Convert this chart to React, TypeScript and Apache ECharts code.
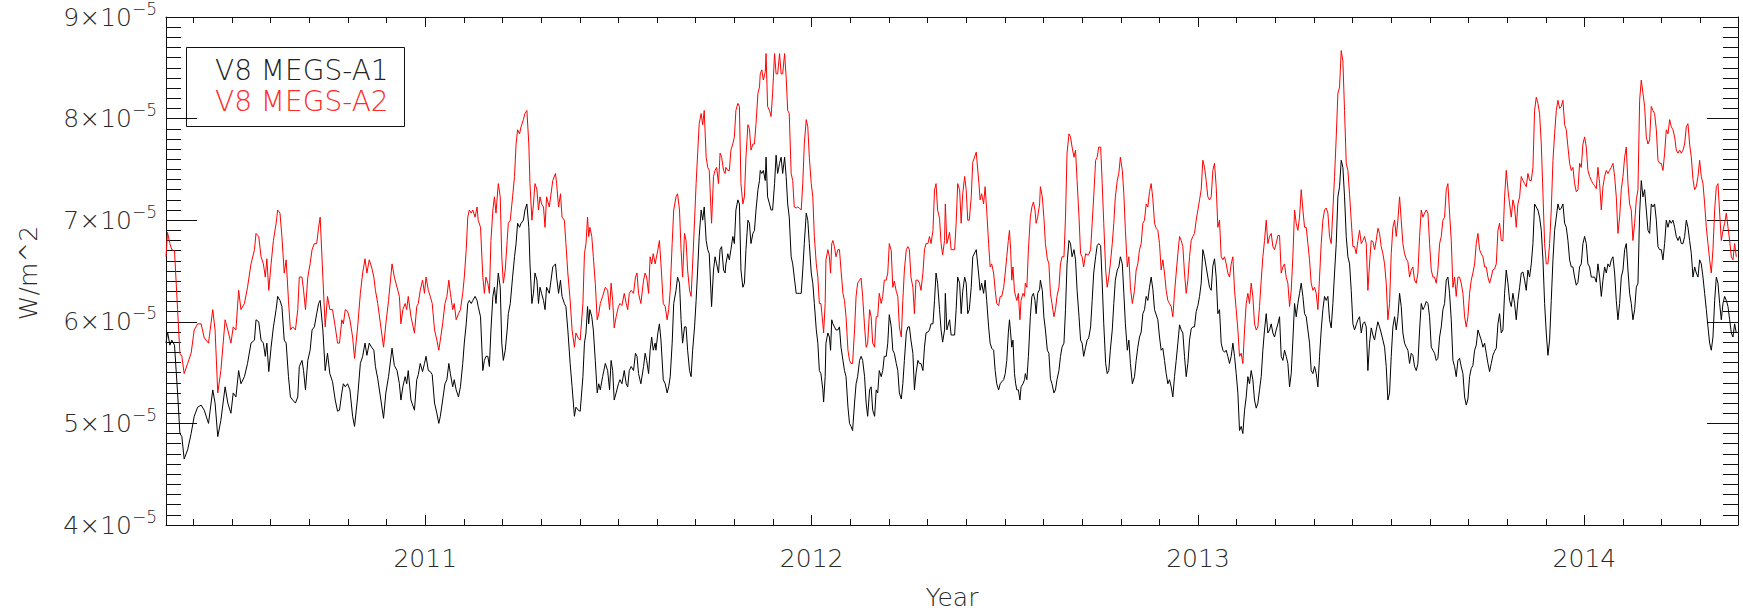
import React, { useEffect, useRef } from "react";
import * as echarts from "echarts";

// Decimal year of each reading
const years: number[] = [
  2010.329, 2010.333, 2010.339, 2010.344, 2010.351, 2010.359, 2010.365, 2010.370, 2010.376, 2010.385,
  2010.394, 2010.402, 2010.411, 2010.420, 2010.428, 2010.439, 2010.450, 2010.456, 2010.463, 2010.471,
  2010.482, 2010.489, 2010.497, 2010.503, 2010.510, 2010.517, 2010.523, 2010.532, 2010.540, 2010.549,
  2010.558, 2010.562, 2010.569, 2010.575, 2010.581, 2010.586, 2010.590, 2010.595, 2010.601, 2010.607,
  2010.614, 2010.618, 2010.624, 2010.629, 2010.635, 2010.640, 2010.646, 2010.651, 2010.657, 2010.664,
  2010.670, 2010.674, 2010.681, 2010.685, 2010.690, 2010.696, 2010.702, 2010.707, 2010.713, 2010.719,
  2010.724, 2010.728, 2010.735, 2010.741, 2010.747, 2010.753, 2010.760, 2010.767, 2010.773, 2010.778,
  2010.784, 2010.788, 2010.793, 2010.799, 2010.805, 2010.812,
  2010.817, 2010.825, 2010.832, 2010.838, 2010.844, 2010.849, 2010.855, 2010.861, 2010.867, 2010.871,
  2010.877, 2010.884, 2010.892, 2010.898, 2010.905, 2010.914, 2010.920, 2010.927, 2010.933, 2010.937,
  2010.942, 2010.948, 2010.952, 2010.956, 2010.963, 2010.972, 2010.978, 2010.982, 2010.987, 2010.993,
  2010.998, 2011.002, 2011.008, 2011.013, 2011.018, 2011.024, 2011.030, 2011.035, 2011.039, 2011.045,
  2011.051, 2011.056, 2011.061, 2011.065, 2011.071, 2011.075, 2011.080, 2011.086, 2011.091, 2011.097,
  2011.101, 2011.106, 2011.110, 2011.114, 2011.119, 2011.123, 2011.129, 2011.134, 2011.137, 2011.143,
  2011.149, 2011.153, 2011.157, 2011.162, 2011.166, 2011.170, 2011.175, 2011.179, 2011.183, 2011.189,
  2011.194, 2011.198, 2011.202, 2011.207, 2011.212, 2011.215, 2011.220, 2011.226, 2011.231, 2011.235,
  2011.239, 2011.244, 2011.248, 2011.254, 2011.258, 2011.263, 2011.268, 2011.271, 2011.276, 2011.280,
  2011.284, 2011.289, 2011.293, 2011.297, 2011.301, 2011.306, 2011.310, 2011.314,
  2011.321, 2011.330, 2011.337, 2011.340, 2011.345, 2011.350, 2011.354, 2011.360, 2011.364, 2011.369,
  2011.375, 2011.380, 2011.386, 2011.390, 2011.396, 2011.401, 2011.408, 2011.412, 2011.416, 2011.420,
  2011.423, 2011.426, 2011.431, 2011.435, 2011.440, 2011.445, 2011.449, 2011.453, 2011.459, 2011.466,
  2011.472, 2011.477, 2011.481, 2011.485, 2011.489, 2011.494, 2011.500, 2011.504, 2011.509, 2011.515,
  2011.520, 2011.524, 2011.528, 2011.533, 2011.539, 2011.544, 2011.548, 2011.552, 2011.558, 2011.565,
  2011.569, 2011.573, 2011.578, 2011.582, 2011.586, 2011.590, 2011.595, 2011.597, 2011.602, 2011.606,
  2011.610, 2011.616, 2011.621, 2011.626, 2011.630, 2011.634, 2011.639, 2011.643, 2011.649, 2011.653,
  2011.658, 2011.662, 2011.666, 2011.671, 2011.675, 2011.679, 2011.684, 2011.688, 2011.692, 2011.697,
  2011.701, 2011.705, 2011.709, 2011.714, 2011.718, 2011.722, 2011.727, 2011.731, 2011.735, 2011.741,
  2011.746, 2011.750, 2011.754, 2011.759, 2011.763, 2011.767, 2011.772, 2011.776, 2011.778, 2011.783,
  2011.787, 2011.791, 2011.796, 2011.800, 2011.804, 2011.809, 2011.813, 2011.817, 2011.822,
  2011.826, 2011.830, 2011.835, 2011.839, 2011.843, 2011.848, 2011.852, 2011.856, 2011.861, 2011.865,
  2011.867, 2011.871, 2011.875, 2011.880, 2011.882, 2011.886, 2011.891, 2011.895, 2011.899, 2011.904,
  2011.908, 2011.912, 2011.917, 2011.921, 2011.925, 2011.930, 2011.934, 2011.938, 2011.942, 2011.947,
  2011.951, 2011.955, 2011.960, 2011.964, 2011.968, 2011.973, 2011.977, 2011.981, 2011.986, 2011.990,
  2011.994, 2011.999, 2012.003, 2012.007, 2012.012, 2012.016, 2012.020, 2012.024, 2012.029, 2012.031,
  2012.035, 2012.037, 2012.042, 2012.046, 2012.049, 2012.052, 2012.055, 2012.059, 2012.063, 2012.068,
  2012.072, 2012.076, 2012.081, 2012.085, 2012.089, 2012.094, 2012.098, 2012.102, 2012.106, 2012.111,
  2012.115, 2012.119, 2012.124, 2012.128, 2012.132, 2012.137, 2012.141, 2012.145, 2012.150, 2012.154,
  2012.158, 2012.163, 2012.167, 2012.171, 2012.175, 2012.180, 2012.184, 2012.188, 2012.193, 2012.197,
  2012.201, 2012.206, 2012.210, 2012.214, 2012.219, 2012.223, 2012.227, 2012.232, 2012.236, 2012.240,
  2012.245, 2012.249, 2012.253, 2012.257, 2012.262, 2012.266, 2012.270, 2012.275, 2012.279, 2012.283,
  2012.288, 2012.292, 2012.296, 2012.301, 2012.305, 2012.309, 2012.314, 2012.318, 2012.322, 2012.326,
  2012.331, 2012.335, 2012.339, 2012.344, 2012.346, 2012.350, 2012.357, 2012.361, 2012.370, 2012.374,
  2012.378, 2012.383, 2012.387, 2012.391, 2012.396, 2012.400, 2012.404, 2012.408, 2012.413, 2012.417,
  2012.426, 2012.433, 2012.436, 2012.440, 2012.445, 2012.449, 2012.453, 2012.458, 2012.462, 2012.466,
  2012.471, 2012.475, 2012.479, 2012.484, 2012.488, 2012.492, 2012.497, 2012.501, 2012.505, 2012.509,
  2012.512, 2012.515, 2012.518, 2012.521, 2012.525, 2012.528, 2012.531, 2012.535, 2012.539, 2012.542,
  2012.547, 2012.551, 2012.553, 2012.557, 2012.561, 2012.566, 2012.570, 2012.574, 2012.578, 2012.581,
  2012.585, 2012.590, 2012.592, 2012.597, 2012.601, 2012.605, 2012.610, 2012.614, 2012.618, 2012.622,
  2012.627, 2012.631, 2012.635, 2012.640, 2012.644, 2012.648, 2012.653, 2012.657, 2012.661, 2012.666,
  2012.670, 2012.674, 2012.679, 2012.683, 2012.687, 2012.692, 2012.696, 2012.700, 2012.704, 2012.709,
  2012.713, 2012.717, 2012.722, 2012.726, 2012.730, 2012.735, 2012.739, 2012.743, 2012.748, 2012.752,
  2012.756, 2012.761, 2012.765, 2012.769, 2012.773, 2012.778, 2012.782, 2012.786, 2012.791, 2012.795,
  2012.799, 2012.804, 2012.808, 2012.812, 2012.817, 2012.821, 2012.825, 2012.830,
  2012.8356, 2012.8399, 2012.8442, 2012.8485, 2012.8529, 2012.8572, 2012.8615, 2012.8658, 2012.8701, 2012.8744,
  2012.8787, 2012.8831, 2012.8874, 2012.8917, 2012.8960, 2012.9003, 2012.9046, 2012.9089, 2012.9133, 2012.9176,
  2012.9219, 2012.9262, 2012.9305, 2012.9348, 2012.9391, 2012.9435, 2012.9478, 2012.9521, 2012.9564, 2012.9607,
  2012.9650, 2012.9694, 2012.9737, 2012.9780, 2012.9823, 2012.9866, 2012.9909, 2012.9952, 2012.9996, 2013.0039,
  2013.0082, 2013.0125, 2013.0168, 2013.0211, 2013.0254, 2013.0298, 2013.0341, 2013.0384, 2013.0427, 2013.0470,
  2013.0513, 2013.0556, 2013.0600, 2013.0643, 2013.0686, 2013.0729, 2013.0772, 2013.0815, 2013.0858, 2013.0902,
  2013.0945, 2013.0988, 2013.1031, 2013.1074, 2013.1117, 2013.1160, 2013.1204, 2013.1247, 2013.1290, 2013.1333,
  2013.1376, 2013.1419, 2013.1462, 2013.1506, 2013.1549, 2013.1592, 2013.1635, 2013.1678, 2013.1721, 2013.1765,
  2013.1808, 2013.1851, 2013.1894, 2013.1937, 2013.1980, 2013.2023, 2013.2067, 2013.2110, 2013.2153, 2013.2196,
  2013.2239, 2013.2282, 2013.2325, 2013.2369, 2013.2412, 2013.2455, 2013.2498, 2013.2541, 2013.2584, 2013.2627,
  2013.2671, 2013.2714, 2013.2757, 2013.2800, 2013.2843, 2013.2886, 2013.2929, 2013.2973, 2013.3016, 2013.3059,
  2013.3102, 2013.3145, 2013.3188, 2013.3231, 2013.3274, 2013.3318, 2013.3361,
  2013.3404, 2013.3447, 2013.3490, 2013.3533, 2013.3577, 2013.3620, 2013.3663, 2013.3706, 2013.3749, 2013.3792,
  2013.3836, 2013.3879, 2013.3922, 2013.3965, 2013.4008, 2013.4051, 2013.4094, 2013.4138, 2013.4181, 2013.4224,
  2013.4267, 2013.4310, 2013.4353, 2013.4396, 2013.4439, 2013.4483, 2013.4526, 2013.4569, 2013.4612, 2013.4655,
  2013.4698, 2013.4741, 2013.4785, 2013.4828, 2013.4871, 2013.4914, 2013.4957, 2013.5000, 2013.5043, 2013.5087,
  2013.5130, 2013.5173, 2013.5216, 2013.5259, 2013.5302, 2013.5345, 2013.5389, 2013.5432, 2013.5475, 2013.5518,
  2013.5561, 2013.5604, 2013.5648, 2013.5691, 2013.5734, 2013.5777, 2013.5820, 2013.5863, 2013.5906, 2013.5950,
  2013.5993, 2013.6036, 2013.6079, 2013.6122, 2013.6165, 2013.6208, 2013.6252, 2013.6295, 2013.6338, 2013.6381,
  2013.6424, 2013.6467, 2013.6510, 2013.6554, 2013.6597, 2013.6640, 2013.6683, 2013.6726, 2013.6769, 2013.6812,
  2013.6856, 2013.6899, 2013.6942, 2013.6985, 2013.7028, 2013.7071, 2013.7114, 2013.7158, 2013.7201, 2013.7244,
  2013.7287, 2013.7330, 2013.7373, 2013.7417, 2013.7460, 2013.7503, 2013.7546, 2013.7589, 2013.7632, 2013.7675,
  2013.7719, 2013.7762, 2013.7805, 2013.7848, 2013.7891, 2013.7934, 2013.7977, 2013.8021, 2013.8064, 2013.8107,
  2013.8150, 2013.8193, 2013.8236, 2013.8279, 2013.8323, 2013.8366, 2013.8409,
  2013.8452, 2013.8495, 2013.8538, 2013.8581, 2013.8625, 2013.8668, 2013.8711, 2013.8754, 2013.8797, 2013.8840,
  2013.8884, 2013.8927, 2013.8970, 2013.9013, 2013.9056, 2013.9099, 2013.9142, 2013.9186, 2013.9229, 2013.9272,
  2013.9315, 2013.9358, 2013.9401, 2013.9444, 2013.9488, 2013.9531, 2013.9574, 2013.9617, 2013.9660, 2013.9703,
  2013.9746, 2013.9790, 2013.9833, 2013.9876, 2013.9919, 2013.9962, 2014.0005, 2014.0048, 2014.0091, 2014.0135,
  2014.0178, 2014.0221, 2014.0264, 2014.0307, 2014.0350, 2014.0394, 2014.0437, 2014.0480, 2014.0523, 2014.0566,
  2014.0609, 2014.0652, 2014.0696, 2014.0739, 2014.0782, 2014.0825, 2014.0868, 2014.0911, 2014.0954, 2014.0998,
  2014.1041, 2014.1084, 2014.1127, 2014.1170, 2014.1213, 2014.1256, 2014.1300, 2014.1343, 2014.1386, 2014.1429,
  2014.1472, 2014.1515, 2014.1558, 2014.1602, 2014.1645, 2014.1688, 2014.1731, 2014.1774, 2014.1817, 2014.1861,
  2014.1904, 2014.1947, 2014.1990, 2014.2033, 2014.2076, 2014.2119, 2014.2163, 2014.2206, 2014.2249, 2014.2292,
  2014.2335, 2014.2378, 2014.2421, 2014.2465, 2014.2508, 2014.2551, 2014.2594, 2014.2637, 2014.2680, 2014.2723,
  2014.2767, 2014.2810, 2014.2853, 2014.2896, 2014.2939, 2014.2982, 2014.3025, 2014.3069, 2014.3112, 2014.3155,
  2014.3198, 2014.3241, 2014.3284, 2014.3327, 2014.3371, 2014.3414, 2014.3457, 2014.3500, 2014.3543, 2014.3586,
  2014.3629, 2014.3673, 2014.3716, 2014.3759, 2014.3802, 2014.3845, 2014.3888, 2014.3931,
];

// V8 MEGS-A1 irradiance, in units of 1e-5 W/m^2
const megsA1: number[] = [
  5.79, 5.90, 5.77, 5.82, 5.77, 5.30, 4.90, 4.87, 4.65, 4.74,
  4.90, 5.07, 5.16, 5.18, 5.13, 5.00, 5.33, 5.20, 4.87, 5.03,
  5.36, 5.20, 5.10, 5.30, 5.26, 5.52, 5.39, 5.46, 5.59, 5.79,
  5.82, 6.02, 6.00, 5.82, 5.79, 5.66, 5.79, 5.51, 5.75, 5.95,
  6.12, 6.25, 6.21, 6.15, 5.82, 5.79, 5.46, 5.26, 5.23, 5.20,
  5.26, 5.56, 5.62, 5.52, 5.33, 5.62, 5.72, 5.92, 5.95, 6.08,
  6.18, 6.21, 5.92, 5.52, 5.69, 5.49, 5.41, 5.23, 5.12, 5.13,
  5.30, 5.39, 5.36, 5.39, 5.33, 5.07,
  4.97, 5.26, 5.59, 5.66, 5.79, 5.67, 5.79, 5.75, 5.72, 5.56,
  5.44, 5.26, 5.05, 5.30, 5.46, 5.74, 5.57, 5.52, 5.39, 5.23,
  5.36, 5.46, 5.39, 5.52, 5.23, 5.13, 5.43, 5.48, 5.59, 5.51,
  5.59, 5.66, 5.52, 5.51, 5.48, 5.20, 5.10, 5.00, 5.07, 5.23,
  5.39, 5.43, 5.59, 5.49, 5.36, 5.43, 5.33, 5.26, 5.36, 5.59,
  5.79, 5.98, 6.18, 6.21, 6.18, 6.21, 6.25, 6.21, 6.15, 6.05,
  5.52, 5.62, 5.66, 5.66, 5.56, 5.92, 6.25, 6.34, 6.18, 6.48,
  6.34, 5.79, 5.62, 5.72, 5.92, 6.08, 6.18, 6.44, 6.64, 6.77,
  6.97, 6.93, 6.97, 7.00, 7.10, 7.16, 6.93, 6.57, 6.18, 6.28,
  6.48, 6.41, 6.18, 6.34, 6.28, 6.21, 6.12, 6.34,
  6.28, 6.54, 6.57, 6.44, 6.28, 6.41, 6.25, 6.18, 6.15, 5.92,
  5.59, 5.36, 5.07, 5.16, 5.13, 5.12, 5.46, 5.79, 5.89, 6.15,
  5.98, 6.12, 6.05, 5.92, 5.62, 5.30, 5.39, 5.33, 5.46, 5.59,
  5.52, 5.33, 5.62, 5.52, 5.23, 5.30, 5.39, 5.43, 5.39, 5.52,
  5.39, 5.36, 5.52, 5.56, 5.52, 5.69, 5.66, 5.49, 5.39, 5.56,
  5.69, 5.62, 5.49, 5.72, 5.85, 5.72, 5.79, 5.72, 5.89, 5.98,
  5.82, 5.43, 5.39, 5.30, 5.36, 5.46, 5.79, 6.18, 6.31, 6.44,
  6.38, 6.02, 5.79, 5.95, 5.95, 5.72, 5.52, 5.46, 5.72, 5.95,
  6.21, 6.51, 6.84, 7.10, 7.00, 7.13, 6.80, 6.71, 6.67, 6.15,
  6.51, 6.64, 6.57, 6.48, 6.71, 6.74, 6.51, 6.48, 6.57, 6.67,
  6.61, 6.71, 6.84, 6.77, 7.10, 7.20, 7.16, 6.51, 6.34,
  6.38, 6.71, 7.00, 6.97, 6.77, 6.87, 6.90, 7.10, 7.30, 7.39,
  7.49, 7.46, 7.49, 7.39, 7.62, 7.23, 7.16, 7.10, 7.10, 7.36,
  7.64, 7.46, 7.56, 7.62, 7.46, 7.62, 7.43, 7.16, 7.03, 6.64,
  6.57, 6.44, 6.28, 6.28, 6.28, 6.28, 6.51, 6.77, 7.07, 7.00,
  6.77, 6.48, 6.38, 6.18, 5.92, 5.79, 5.52, 5.49, 5.33, 5.21,
  5.46, 5.79, 5.89, 5.85, 5.72, 6.02, 5.98, 5.95, 5.92, 5.92,
  5.95, 5.75, 5.62, 5.52, 5.46, 5.16, 5.00, 4.97, 4.93, 5.20,
  5.39, 5.46, 5.62, 5.66, 5.62, 5.46, 5.20, 5.07, 5.33, 5.36,
  5.13, 5.07, 5.33, 5.30, 5.52, 5.46, 5.52, 5.66, 5.66, 5.79,
  6.07, 5.95, 5.72, 5.69, 5.59, 5.52, 5.30, 5.24, 5.39, 5.62,
  5.89, 5.95, 5.95, 5.82, 5.69, 5.33, 5.49, 5.62, 5.59, 5.59,
  5.52, 5.75, 5.89, 5.90, 5.92, 5.98, 5.98, 6.21, 6.48, 6.38,
  6.12, 5.92, 5.80, 5.92, 6.28, 5.92, 6.02, 5.87, 5.87, 6.12,
  6.44, 6.38, 6.08, 6.30, 6.44, 6.38, 6.08, 6.12, 6.34, 6.64,
  6.71, 6.44, 6.31, 6.38, 6.28, 6.41, 6.21, 5.95, 5.79, 5.74,
  5.72, 5.52, 5.39, 5.33, 5.39, 5.41, 5.43, 5.49, 5.62, 5.89,
  6.02, 5.89, 5.75, 5.82, 5.49, 5.39, 5.33, 5.33, 5.23, 5.36,
  5.39, 5.43, 5.49, 5.43, 5.66, 6.05, 6.25, 6.28, 6.21, 6.08,
  6.28, 6.32, 6.41, 6.31, 6.05, 5.92, 5.72, 5.69, 5.44, 5.39,
  5.30, 5.33, 5.43, 5.52, 5.66, 5.75, 5.79, 6.12, 6.57, 6.80,
  6.77, 6.64, 6.71, 6.61, 6.31, 6.05, 5.82, 5.79, 5.66, 5.75,
  5.82, 5.84, 5.95, 6.21, 6.48, 6.64, 6.75, 6.77, 6.75, 6.38,
  5.98, 5.59, 5.49, 5.52, 5.72, 5.92, 6.18, 6.41, 6.51, 6.54,
  6.64, 6.57, 6.28, 5.98, 5.72, 5.82, 5.59, 5.39,
  5.46, 5.62, 5.75, 5.85, 5.90, 6.08, 6.12, 6.25, 6.21, 6.34,
  6.44, 6.32, 6.12, 6.07, 6.02, 5.85, 5.72, 5.74, 5.62, 5.49,
  5.39, 5.43, 5.36, 5.26, 5.46, 5.62, 5.79, 5.97, 5.92, 5.89,
  5.66, 5.46, 5.59, 5.82, 5.93, 5.95, 5.95, 6.10, 6.16, 6.25,
  6.38, 6.71, 6.64, 6.54, 6.44, 6.34, 6.31, 6.55, 6.62, 6.44,
  6.08, 6.12, 5.79, 5.72, 5.70, 5.72, 5.66, 5.59, 5.66, 5.79,
  5.66, 5.49, 5.30, 4.93, 4.97, 4.90, 5.13, 5.26, 5.46, 5.39,
  5.52, 5.43, 5.23, 5.15, 5.20, 5.33, 5.46, 5.72, 5.92, 6.08,
  5.89, 5.92, 5.98, 5.89, 5.85, 5.92, 5.98, 6.05, 5.66, 5.62,
  5.72, 5.66, 5.59, 5.36, 5.49, 5.82, 6.18, 6.05, 6.18, 6.28,
  6.38, 6.25, 6.08, 6.05, 5.92, 5.79, 5.52, 5.49, 5.56, 5.49,
  5.36, 5.66, 5.92, 6.12, 6.25, 6.21, 6.25,
  6.02, 5.94, 6.18, 6.48, 6.77, 7.23, 7.33, 7.59, 7.52, 7.23,
  6.84, 6.64, 6.57, 6.31, 5.98, 5.92, 5.97, 6.02, 6.05, 5.89,
  5.98, 6.00, 5.95, 5.52, 5.79, 5.94, 5.87, 5.82, 5.92, 6.00,
  5.95, 5.89, 5.82, 5.75, 5.56, 5.23, 5.30, 5.66, 5.95, 6.05,
  5.92, 6.05, 6.28, 6.15, 5.89, 5.79, 5.75, 5.72, 5.59, 5.69,
  5.67, 5.56, 5.52, 5.59, 5.92, 6.18, 6.12, 6.15, 6.20, 6.18,
  6.05, 5.75, 5.72, 5.69, 5.62, 5.64, 5.85, 5.95, 6.12, 6.18,
  6.41, 6.44, 6.28, 6.02, 5.62, 5.56, 5.46, 5.62, 5.64, 5.56,
  5.49, 5.26, 5.18, 5.24, 5.46, 5.54, 5.57, 5.72, 5.77, 5.92,
  5.87, 5.82, 5.75, 5.79, 5.69, 5.59, 5.51, 5.59, 5.67, 5.71,
  5.74, 5.98, 6.08, 5.89, 5.92, 6.28, 6.51, 6.38, 6.21, 6.15,
  6.28, 6.18, 6.02, 6.21, 6.34, 6.48, 6.49,
  6.41, 6.31, 6.51, 6.44, 6.57, 6.77, 7.16, 7.13, 7.10, 7.03,
  6.90, 6.61, 6.18, 5.89, 5.67, 5.82, 6.21, 6.61, 6.90, 7.03,
  7.16, 7.10, 7.12, 7.16, 6.97, 6.93, 6.80, 6.61, 6.54, 6.54,
  6.44, 6.36, 6.39, 6.54, 6.57, 6.77, 6.84, 6.77, 6.57, 6.54,
  6.44, 6.44, 6.44, 6.39, 6.57, 6.44, 6.25, 6.41, 6.54, 6.48,
  6.57, 6.54, 6.61, 6.64, 6.48, 6.21, 6.02, 6.18, 6.44, 6.51,
  6.71, 6.77, 6.51, 6.28, 6.18, 6.02, 6.12, 6.34, 6.38, 7.07,
  7.39, 7.23, 7.30, 7.10, 6.90, 6.87, 7.16, 7.13, 7.16, 7.00,
  6.74, 6.71, 6.71, 6.61, 6.77, 7.00, 6.93, 7.00, 6.97, 7.00,
  6.93, 6.84, 6.80, 6.84, 6.77, 6.77, 6.84, 7.00, 6.93, 6.80,
  6.67, 6.44, 6.54, 6.48, 6.44, 6.61, 6.57, 6.44, 6.28, 6.12,
  5.95, 5.79, 5.72, 5.85, 6.21, 6.44, 6.38, 6.18, 6.02, 6.18,
  6.25, 6.21, 6.15, 6.02, 5.89, 5.85, 5.98, 5.89,
];

// V8 MEGS-A2 irradiance, in units of 1e-5 W/m^2
const megsA2: number[] = [
  6.64, 6.88, 6.77, 6.71, 6.70, 6.12, 5.69, 5.66, 5.49, 5.59,
  5.69, 5.92, 5.98, 5.98, 5.84, 5.79, 6.12, 5.92, 5.30, 5.52,
  6.02, 5.92, 5.79, 5.95, 5.92, 6.31, 6.12, 6.18, 6.34, 6.57,
  6.71, 6.87, 6.84, 6.64, 6.57, 6.44, 6.62, 6.31, 6.57, 6.80,
  6.97, 7.10, 7.07, 6.84, 6.48, 6.61, 6.21, 5.92, 5.95, 5.92,
  6.12, 6.44, 6.44, 6.31, 6.12, 6.44, 6.57, 6.71, 6.77, 6.77,
  6.93, 7.03, 6.44, 5.95, 6.25, 6.12, 6.12, 5.95, 5.79, 5.79,
  6.02, 5.98, 6.12, 6.10, 6.02, 5.85,
  5.64, 5.95, 6.28, 6.48, 6.62, 6.48, 6.61, 6.54, 6.44, 6.31,
  6.18, 5.98, 5.75, 5.98, 6.21, 6.57, 6.44, 6.34, 6.25, 5.98,
  6.12, 6.18, 6.12, 6.25, 6.05, 5.89, 6.15, 6.18, 6.31, 6.41,
  6.28, 6.44, 6.31, 6.25, 6.18, 5.92, 5.82, 5.72, 5.82, 5.98,
  6.18, 6.25, 6.41, 6.28, 6.12, 6.18, 6.02, 6.08, 6.12, 6.28,
  6.44, 6.71, 7.03, 7.10, 7.07, 7.10, 7.03, 7.13, 7.00, 6.93,
  6.44, 6.28, 6.44, 6.38, 6.28, 6.80, 7.10, 7.23, 7.07, 7.36,
  7.23, 6.64, 6.38, 6.51, 6.80, 6.97, 7.00, 7.23, 7.43, 7.75,
  7.89, 7.85, 7.92, 7.99, 8.05, 8.08, 7.75, 7.36, 7.00, 7.16,
  7.36, 7.30, 7.10, 7.23, 7.16, 7.13, 6.93, 7.23,
  7.13, 7.39, 7.46, 7.36, 7.13, 7.26, 7.03, 7.00, 6.77, 6.48,
  6.21, 5.92, 5.75, 5.89, 5.84, 5.82, 6.18, 6.67, 6.77, 7.03,
  6.84, 6.93, 6.84, 6.64, 6.38, 6.02, 6.08, 6.18, 6.25, 6.34,
  6.31, 6.12, 6.38, 6.21, 5.94, 6.05, 6.15, 6.18, 6.16, 6.28,
  6.18, 6.12, 6.28, 6.31, 6.28, 6.44, 6.48, 6.28, 6.18, 6.41,
  6.48, 6.44, 6.28, 6.64, 6.57, 6.67, 6.57, 6.61, 6.71, 6.80,
  6.57, 6.18, 6.15, 6.02, 6.12, 6.31, 6.77, 7.10, 7.23, 7.26,
  7.10, 6.71, 6.44, 6.87, 6.80, 6.51, 6.31, 6.25, 6.57, 7.00,
  7.36, 7.66, 7.95, 8.05, 7.94, 8.08, 7.62, 7.52, 7.49, 6.97,
  7.43, 7.49, 7.52, 7.36, 7.66, 7.62, 7.49, 7.46, 7.52, 7.49,
  7.49, 7.69, 7.75, 7.82, 8.08, 8.15, 8.12, 7.36, 7.16,
  7.23, 7.62, 7.94, 7.90, 7.69, 7.75, 7.75, 7.95, 8.25, 8.31,
  8.44, 8.48, 8.38, 8.46, 8.64, 8.12, 8.08, 8.02, 8.25, 8.64,
  8.44, 8.44, 8.64, 8.44, 8.44, 8.64, 8.41, 8.08, 8.05, 7.46,
  7.39, 7.13, 7.12, 7.13, 7.12, 7.10, 7.36, 7.75, 7.99, 7.92,
  7.62, 7.36, 7.23, 6.84, 6.57, 6.44, 6.18, 6.18, 5.98, 5.89,
  6.18, 6.61, 6.71, 6.64, 6.48, 6.77, 6.80, 6.74, 6.64, 6.71,
  6.71, 6.51, 6.28, 6.21, 6.05, 5.72, 5.62, 5.59, 5.59, 5.92,
  6.25, 6.38, 6.41, 6.43, 6.25, 5.95, 5.75, 5.79, 6.12, 6.05,
  5.79, 5.75, 6.05, 6.05, 6.28, 6.18, 6.25, 6.41, 6.41, 6.48,
  6.77, 6.70, 6.34, 6.40, 6.30, 6.25, 5.95, 5.85, 6.21, 6.51,
  6.71, 6.74, 6.71, 6.44, 6.34, 6.08, 6.41, 6.41, 6.38, 6.31,
  6.48, 6.71, 6.77, 6.77, 6.84, 6.77, 6.90, 7.30, 7.36, 7.10,
  7.02, 6.77, 6.66, 6.80, 7.16, 6.77, 6.88, 6.71, 6.71, 6.97,
  7.36, 7.30, 6.97, 7.26, 7.43, 7.30, 7.00, 7.00, 7.23, 7.57,
  7.67, 7.36, 7.20, 7.26, 7.16, 7.33, 7.10, 6.77, 6.54, 6.57,
  6.48, 6.31, 6.18, 6.16, 6.25, 6.25, 6.34, 6.48, 6.64, 6.80,
  6.90, 6.71, 6.41, 6.54, 6.30, 6.25, 6.21, 6.28, 6.02, 6.21,
  6.28, 6.25, 6.38, 6.34, 6.71, 7.03, 7.13, 7.18, 7.10, 6.97,
  7.03, 7.16, 7.33, 7.23, 7.03, 6.77, 6.62, 6.57, 6.28, 6.18,
  6.05, 6.12, 6.25, 6.34, 6.57, 6.64, 6.64, 7.03, 7.66, 7.85,
  7.82, 7.72, 7.62, 7.69, 7.39, 7.03, 6.67, 6.64, 6.54, 6.67,
  6.66, 6.66, 6.71, 6.97, 7.23, 7.59, 7.62, 7.72, 7.72, 7.36,
  6.97, 6.51, 6.34, 6.44, 6.57, 6.77, 6.97, 7.23, 7.39, 7.46,
  7.62, 7.49, 7.26, 6.90, 6.54, 6.64, 6.34, 6.18,
  6.31, 6.51, 6.57, 6.71, 6.77, 6.97, 7.00, 7.16, 7.13, 7.28,
  7.36, 7.21, 6.97, 6.92, 6.90, 6.77, 6.51, 6.61, 6.48, 6.31,
  6.21, 6.18, 6.15, 6.05, 6.28, 6.48, 6.67, 6.84, 6.80, 6.74,
  6.48, 6.28, 6.41, 6.64, 6.80, 6.84, 6.87, 7.00, 7.10, 7.20,
  7.30, 7.59, 7.52, 7.39, 7.23, 7.20, 7.23, 7.49, 7.56, 7.33,
  6.93, 7.00, 6.64, 6.61, 6.64, 6.57, 6.48, 6.44, 6.57, 6.64,
  6.31, 6.12, 5.92, 5.66, 5.69, 5.59, 5.92, 6.18, 6.28, 6.18,
  6.38, 6.25, 5.98, 5.92, 5.95, 6.15, 6.41, 6.64, 6.80, 7.00,
  6.77, 6.84, 6.87, 6.74, 6.71, 6.77, 6.85, 6.85, 6.48, 6.54,
  6.57, 6.44, 6.38, 6.15, 6.31, 6.64, 7.10, 6.97, 6.90, 7.03,
  7.30, 7.10, 6.93, 6.93, 6.77, 6.61, 6.38, 6.31, 6.34, 6.28,
  6.12, 6.44, 6.77, 7.00, 7.10, 7.12, 7.07,
  6.84, 6.77, 7.10, 7.43, 7.82, 8.25, 8.31, 8.67, 8.57, 8.08,
  7.56, 7.49, 7.25, 7.00, 6.74, 6.74, 6.67, 6.80, 6.90, 6.77,
  6.80, 6.84, 6.77, 6.31, 6.57, 6.80, 6.79, 6.71, 6.80, 6.92,
  6.87, 6.74, 6.67, 6.57, 6.38, 6.02, 6.18, 6.67, 6.93, 7.00,
  6.84, 7.00, 7.23, 7.00, 6.77, 6.67, 6.62, 6.59, 6.44, 6.51,
  6.54, 6.41, 6.38, 6.48, 6.84, 7.10, 7.03, 7.07, 7.10, 7.07,
  6.77, 6.51, 6.44, 6.44, 6.38, 6.51, 6.77, 6.84, 7.00, 7.03,
  7.30, 7.36, 7.07, 6.80, 6.34, 6.44, 6.25, 6.44, 6.44, 6.38,
  6.28, 6.05, 5.95, 6.05, 6.28, 6.41, 6.48, 6.57, 6.77, 6.87,
  6.71, 6.67, 6.64, 6.54, 6.54, 6.44, 6.38, 6.44, 6.51, 6.52,
  6.57, 6.90, 6.97, 6.80, 6.80, 7.23, 7.49, 7.30, 7.16, 7.03,
  7.20, 7.13, 6.93, 7.16, 7.23, 7.43, 7.39,
  7.36, 7.33, 7.46, 7.39, 7.39, 7.52, 8.08, 8.21, 8.15, 8.05,
  7.75, 7.26, 6.77, 6.57, 6.57, 6.77, 7.10, 7.59, 7.85, 8.08,
  8.18, 8.10, 8.12, 8.18, 7.94, 7.89, 7.72, 7.56, 7.49, 7.52,
  7.36, 7.28, 7.30, 7.56, 7.52, 7.75, 7.82, 7.72, 7.49, 7.43,
  7.39, 7.36, 7.34, 7.31, 7.52, 7.36, 7.10, 7.33, 7.43, 7.49,
  7.46, 7.49, 7.52, 7.56, 7.43, 7.23, 6.87, 7.03, 7.30, 7.43,
  7.62, 7.72, 7.36, 7.16, 7.10, 6.80, 6.97, 7.20, 7.30, 8.18,
  8.38, 8.25, 8.12, 7.82, 7.75, 7.79, 8.12, 8.08, 8.05, 7.89,
  7.59, 7.56, 7.56, 7.49, 7.66, 7.89, 7.85, 7.99, 7.92, 7.89,
  7.82, 7.69, 7.66, 7.69, 7.66, 7.69, 7.75, 7.92, 7.95, 7.75,
  7.62, 7.40, 7.30, 7.33, 7.43, 7.59, 7.43, 7.36, 7.16, 6.93,
  6.77, 6.61, 6.48, 6.71, 7.10, 7.33, 7.36, 7.07, 6.80, 6.90,
  6.97, 7.07, 6.93, 6.80, 6.64, 6.61, 6.77, 6.64,
];

const yearTicks = [2011, 2012, 2013, 2014];
const valueTicks = [4, 5, 6, 7, 8, 9]; // ×10^-5
const seriesNames = ["V8 MEGS-A1", "V8 MEGS-A2"];
const seriesColors = ["#000000", "#ff0000"];

const X_MIN = 2010.329;
const X_MAX = 2014.3975;
const FONT = '"DejaVu Sans", "Liberation Sans", sans-serif';
const FW = 200;
const TXT = "#2a2a2a";
const AXIS = "#111111";

export default function App() {
  const ref = useRef<HTMLDivElement>(null);

  useEffect(() => {
    if (!ref.current) return;
    const chart = echarts.init(ref.current, undefined, { renderer: "svg" });

    const minorYearTicks: number[] = [];
    for (let i = 20104; i <= 20143; i++) minorYearTicks.push(i / 10);

    const n = Math.min(years.length, megsA1.length, megsA2.length);
    const a1 = years.slice(0, n).map((t, i) => [t, megsA1[i]]);
    const a2 = years.slice(0, n).map((t, i) => [t, megsA2[i]]);

    const lineAxis = { show: true, lineStyle: { color: AXIS, width: 1 } };
    const baseX = {
      type: "value" as const,
      min: X_MIN,
      max: X_MAX,
      splitLine: { show: false },
      axisPointer: { show: false },
    };
    const baseY = {
      type: "value" as const,
      min: valueTicks[0],
      max: valueTicks[valueTicks.length - 1],
      interval: 1,
      splitLine: { show: false },
      axisLine: lineAxis,
      axisTick: { show: true, inside: true, length: 31, lineStyle: { color: AXIS } },
      minorTick: { show: true, splitNumber: 10, length: 15, lineStyle: { color: AXIS } },
    };

    const option: any = {
      animation: false,
      backgroundColor: "#ffffff",
      grid: { left: 166, right: 5, top: 16, bottom: 87, containLabel: false },
      xAxis: [
        {
          ...baseX,
          position: "bottom",
          axisLine: lineAxis,
          axisTick: { show: true, inside: true, length: 10, customValues: yearTicks, lineStyle: { color: AXIS } },
          axisLabel: {
            show: true,
            customValues: yearTicks,
            formatter: (v: number) => String(Math.round(v)),
            margin: 21,
            fontSize: 25,
            fontWeight: FW,
            fontFamily: FONT,
            color: TXT,
          },
        },
        {
          ...baseX,
          position: "bottom",
          axisLine: { show: false },
          axisTick: { show: true, inside: true, length: 6, customValues: minorYearTicks, lineStyle: { color: AXIS } },
          axisLabel: { show: false },
        },
        {
          ...baseX,
          position: "top",
          axisLine: lineAxis,
          axisTick: { show: true, inside: true, length: 10, customValues: yearTicks, lineStyle: { color: AXIS } },
          axisLabel: { show: false },
        },
        {
          ...baseX,
          position: "top",
          axisLine: { show: false },
          axisTick: { show: true, inside: true, length: 6, customValues: minorYearTicks, lineStyle: { color: AXIS } },
          axisLabel: { show: false },
        },
      ],
      yAxis: [
        {
          ...baseY,
          position: "left",
          axisLabel: {
            show: true,
            margin: 9,
            formatter: (v: number) => `{b|${v}×10}{s|−5}`,
            rich: {
              b: { fontSize: 25, lineHeight: 34, fontWeight: FW, fontFamily: FONT, color: TXT },
              s: { fontSize: 17, lineHeight: 17, verticalAlign: "top", fontWeight: FW, fontFamily: FONT, color: TXT },
            },
          },
        },
        {
          ...baseY,
          position: "right",
          axisLabel: { show: false },
        },
      ],
      series: [
        {
          name: seriesNames[0],
          type: "line",
          xAxisIndex: 0,
          yAxisIndex: 0,
          data: a1,
          showSymbol: false,
          symbol: "none",
          lineStyle: { color: seriesColors[0], width: 1 },
          itemStyle: { color: seriesColors[0] },
          clip: true,
        },
        {
          name: seriesNames[1],
          type: "line",
          xAxisIndex: 0,
          yAxisIndex: 0,
          data: a2,
          showSymbol: false,
          symbol: "none",
          lineStyle: { color: seriesColors[1], width: 1 },
          itemStyle: { color: seriesColors[1] },
          clip: true,
        },
      ],
      graphic: [
        {
          type: "rect",
          shape: { x: 186.5, y: 47.5, width: 218, height: 79 },
          style: { fill: "none", stroke: AXIS, lineWidth: 1 },
          z: 10,
        },
        {
          type: "text",
          x: 215,
          y: 70,
          style: {
            text: seriesNames[0],
            fill: "#222222",
            fontSize: 28,
            fontWeight: FW,
            fontFamily: FONT,
            align: "left",
            verticalAlign: "middle",
          },
          z: 10,
        },
        {
          type: "text",
          x: 215,
          y: 101,
          style: {
            text: seriesNames[1],
            fill: "#ff2a2a",
            fontSize: 28,
            fontWeight: FW,
            fontFamily: FONT,
            align: "left",
            verticalAlign: "middle",
          },
          z: 10,
        },
        {
          type: "text",
          x: 952,
          y: 597,
          style: {
            text: "Year",
            fill: TXT,
            fontSize: 25,
            fontWeight: FW,
            fontFamily: FONT,
            align: "center",
            verticalAlign: "middle",
          },
        },
        {
          type: "text",
          x: 28,
          y: 273,
          rotation: Math.PI / 2,
          style: {
            text: "W/m^2",
            fill: TXT,
            fontSize: 25,
            fontWeight: FW,
            fontFamily: FONT,
            align: "center",
            verticalAlign: "middle",
          },
        },
      ],
    };

    chart.setOption(option);
    return () => chart.dispose();
  }, []);

  return (
    <div
      ref={ref}
      style={{ position: "fixed", left: 0, top: 0, width: 1743, height: 612, background: "#ffffff" }}
    />
  );
}
